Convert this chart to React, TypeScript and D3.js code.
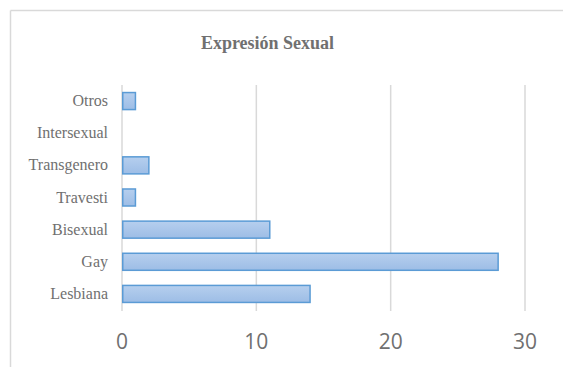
import React from "react";
import * as d3 from "d3";

const categories = ["Otros", "Intersexual", "Transgenero", "Travesti", "Bisexual", "Gay", "Lesbiana"];
const values = [1, 0, 2, 1, 11, 28, 14];
const xTicks = [0, 10, 20, 30];
const title = "Expresión Sexual";

export default function App() {
  const W = 563, H = 367;
  const x = d3.scaleLinear().domain([0, 30]).range([122, 525]);
  const y = d3.scaleBand<string>().domain(categories).range([85, 310]).paddingInner(0.47).paddingOuter(0.235);
  return (
    <svg width={W} height={H} style={{ position: "absolute", left: 0, top: 0 }}>
      <defs>
        <linearGradient id="barGrad" x1="0" y1="0" x2="0" y2="1">
          <stop offset="0%" stopColor="#b6cfee" />
          <stop offset="100%" stopColor="#9dbde6" />
        </linearGradient>
      </defs>
      <rect x={0} y={0} width={W} height={H} fill="#fff" />
      <line x1={10.5} y1={10.5} x2={W} y2={10.5} stroke="#d9d9d9" strokeWidth={1.5} />
      <line x1={10.5} y1={10.5} x2={10.5} y2={H} stroke="#d9d9d9" strokeWidth={1.5} />
      <text x={267.5} y={49} textAnchor="middle" fontFamily="'Liberation Serif', serif" fontWeight="bold" fontSize={18} fill="#707070">
        {title}
      </text>
      {xTicks.map((t) => (
        <g key={t}>
          <line x1={x(t)} x2={x(t)} y1={85} y2={311} stroke="#d9d9d9" strokeWidth={1.5} />
          <text x={x(t)} y={349} textAnchor="middle" fontFamily="'Open Sans', sans-serif" fontSize={21} fill="#707070">
            {t}
          </text>
        </g>
      ))}
      {categories.map((c, i) => (
        <g key={c}>
          <text x={108} y={(y(c) as number) + y.bandwidth() / 2 + 5} textAnchor="end" fontFamily="'Liberation Serif', serif" fontSize={16} fill="#707070">
            {c}
          </text>
          {values[i] > 0 && (
            <rect
              x={x(0) + 0.75}
              y={y(c) as number}
              width={x(values[i]) - x(0) - 0.75}
              height={y.bandwidth()}
              fill="url(#barGrad)"
              stroke="#5b9bd5"
              strokeWidth={1.5}
            />
          )}
        </g>
      ))}
    </svg>
  );
}
